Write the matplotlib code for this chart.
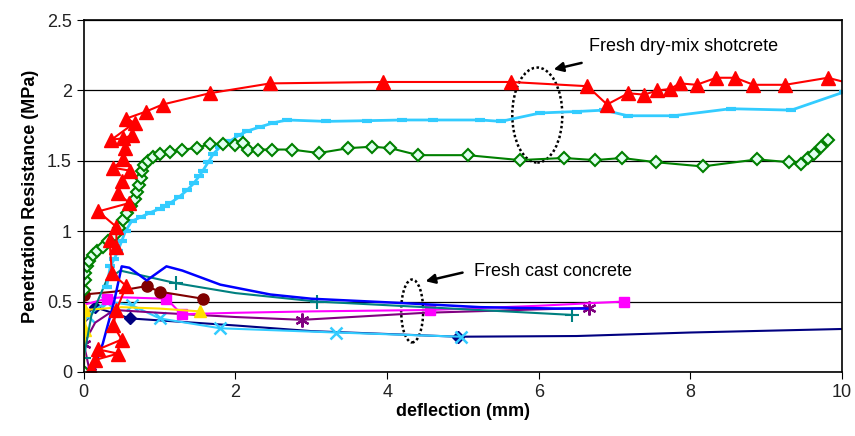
import matplotlib
matplotlib.use("Agg")
import matplotlib.pyplot as plt
from matplotlib.patches import Ellipse
import numpy as np

plt.rcParams['font.family'] = ['Liberation Sans', 'DejaVu Sans']

# ---- fresh dry-mix shotcrete ----
red_x = [0.10, 0.15, 0.45, 0.19, 0.50, 0.39, 0.43, 0.56, 0.37, 0.34, 0.43, 0.43, 0.19, 0.60,
         0.45, 0.50, 0.61, 0.39, 0.52, 0.54, 0.63, 0.52, 0.365, 0.67, 0.56, 0.82, 1.04, 1.66,
         2.46, 3.95, 5.63, 6.64, 6.90, 7.18, 7.39, 7.56, 7.73, 7.86, 8.08, 8.34, 8.59, 8.83,
         9.25, 9.81, 10.1]
red_y = [0.02, 0.085, 0.13, 0.16, 0.23, 0.33, 0.44, 0.61, 0.70, 0.94, 0.89, 1.03, 1.14, 1.20,
         1.27, 1.36, 1.43, 1.45, 1.51, 1.59, 1.68, 1.66, 1.65, 1.77, 1.80, 1.85, 1.90, 1.98,
         2.05, 2.06, 2.06, 2.03, 1.90, 1.98, 1.97, 2.00, 2.01, 2.05, 2.04, 2.09, 2.09, 2.04,
         2.04, 2.09, 2.05]

cyan_x = [0.30, 0.35, 0.40, 0.45, 0.50, 0.55, 0.63, 0.75, 0.87, 1.00, 1.07, 1.14, 1.25, 1.36,
          1.45, 1.52, 1.57, 1.64, 1.71, 1.80, 1.93, 2.04, 2.15, 2.32, 2.50, 2.68, 3.20, 3.73,
          4.20, 4.61, 5.23, 5.50, 6.02, 6.50, 6.86, 7.17, 7.78, 8.53, 9.33, 10.03]
cyan_y = [0.60, 0.75, 0.80, 0.86, 0.93, 1.00, 1.07, 1.10, 1.13, 1.16, 1.18, 1.20, 1.24, 1.29,
          1.34, 1.39, 1.43, 1.49, 1.55, 1.60, 1.64, 1.68, 1.71, 1.74, 1.77, 1.79, 1.78, 1.785,
          1.79, 1.79, 1.79, 1.78, 1.84, 1.85, 1.86, 1.82, 1.82, 1.87, 1.86, 1.99]

green_x = [0.0, 0.0, 0.01, 0.02, 0.04, 0.07, 0.12, 0.18, 0.25, 0.32, 0.41, 0.47, 0.52, 0.57,
           0.62, 0.67, 0.70, 0.73, 0.76, 0.77, 0.80, 0.85, 0.91, 1.00, 1.14, 1.30, 1.49, 1.66,
           1.84, 2.00, 2.10, 2.17, 2.30, 2.48, 2.74, 3.10, 3.49, 3.80, 4.04, 4.41, 5.06, 5.75,
           6.33, 6.74, 7.10, 7.54, 8.16, 8.88, 9.30, 9.46, 9.55, 9.63, 9.72, 9.81]
green_y = [0.0, 0.58, 0.65, 0.70, 0.75, 0.79, 0.83, 0.86, 0.89, 0.93, 0.97, 1.02, 1.08, 1.13,
           1.18, 1.23, 1.28, 1.33, 1.38, 1.43, 1.47, 1.50, 1.53, 1.55, 1.56, 1.58, 1.59, 1.62,
           1.62, 1.61, 1.63, 1.58, 1.58, 1.58, 1.58, 1.555, 1.59, 1.60, 1.59, 1.54, 1.54, 1.505,
           1.52, 1.505, 1.52, 1.49, 1.46, 1.51, 1.49, 1.48, 1.52, 1.55, 1.60, 1.65]

# ---- fresh cast concrete ----
blue_x = [0.15, 0.25, 0.40, 0.50, 0.60, 0.83, 1.09, 1.30, 1.80, 2.46, 3.00, 4.17, 5.23, 6.24, 6.64]
blue_y = [0.05, 0.20, 0.50, 0.75, 0.74, 0.65, 0.75, 0.72, 0.62, 0.55, 0.52, 0.49, 0.46, 0.45, 0.45]

teal_x = [0.0, 0.10, 0.30, 0.48, 1.22, 2.00, 3.07, 4.50, 6.44]
teal_y = [0.10, 0.40, 0.65, 0.72, 0.63, 0.56, 0.50, 0.46, 0.405]

maroon_x = [0.0, 0.40, 0.83, 1.00, 1.57]
maroon_y = [0.55, 0.57, 0.61, 0.57, 0.52]

magenta_x = [0.0, 0.02, 0.30, 0.50, 1.09, 1.29, 2.00, 3.00, 4.57, 6.00, 7.12]
magenta_y = [0.0, 0.48, 0.52, 0.53, 0.52, 0.41, 0.42, 0.43, 0.44, 0.47, 0.50]

yellow_x = [0.0, 0.02, 0.02, 0.50, 1.00, 1.53]
yellow_y = [0.0, 0.30, 0.44, 0.46, 0.45, 0.43]

purple_x = [0.08, 0.0, 0.15, 0.40, 1.00, 2.00, 2.88, 4.50, 6.66]
purple_y = [0.0, 0.20, 0.35, 0.44, 0.42, 0.39, 0.37, 0.42, 0.455]

navy_x = [0.0, 0.145, 0.61, 2.00, 3.00, 4.94, 6.50, 8.00, 10.0]
navy_y = [0.40, 0.46, 0.38, 0.33, 0.29, 0.25, 0.255, 0.28, 0.305]

aqua_x = [0.05, 0.30, 0.63, 1.00, 1.80, 3.32, 4.97]
aqua_y = [0.40, 0.50, 0.475, 0.38, 0.31, 0.28, 0.25]

fig = plt.figure(figsize=(8.55, 4.36), dpi=100)
ax = fig.add_axes([0.098, 0.147, 0.887, 0.807])

ax.plot(navy_x, navy_y, color='#000080', lw=1.5, marker='D', ms=6, markevery=[0, 1, 2, 5])
ax.plot(aqua_x, aqua_y, color='#33CCFF', lw=1.5, marker='x', ms=8, mew=1.8)
ax.plot(purple_x, purple_y, color='#800080', lw=1.5, marker=(6, 2, 0), ms=10, mew=1.6,
        markevery=[0, 1, 6, 8])
ax.plot(magenta_x, magenta_y, color='#FF00FF', lw=1.5, marker='s', ms=7,
        markevery=[0, 2, 4, 5, 8, 10])
ax.plot(yellow_x, yellow_y, color='#FFE000', lw=1.5, marker='^', ms=8,
        markevery=[0, 1, 2, 5])
ax.plot(maroon_x, maroon_y, color='#800000', lw=1.5, marker='o', ms=8,
        markevery=[0, 2, 3, 4])
ax.plot(teal_x, teal_y, color='#008080', lw=1.5, marker='+', ms=10, mew=1.5,
        markevery=[0, 4, 6, 8])
ax.plot(blue_x, blue_y, color='#0000FF', lw=1.8)

ax.plot(cyan_x, cyan_y, color='#33CCFF', lw=2, marker='_', ms=7, mew=3)
ax.plot(green_x, green_y, color='#008000', lw=1.5, marker='D', ms=6.5,
        mfc='#E0FFF0', mec='#008000', mew=1.5)
ax.plot(red_x, red_y, color='#FF0000', lw=1.5, marker='^', ms=9.5,
        markevery=slice(0, len(red_x) - 1))

# annotations
ax.add_patch(Ellipse((5.98, 1.825), 0.66, 0.675, fill=False, ec='k', ls=(0, (1, 1)), lw=1.8))
ax.add_patch(Ellipse((4.33, 0.433), 0.29, 0.447, fill=False, ec='k', ls=(0, (1, 1)), lw=1.8))
ax.annotate('', xy=(6.16, 2.145), xytext=(6.60, 2.20),
            arrowprops=dict(arrowstyle='-|>', color='k', lw=1.8, mutation_scale=14))
ax.annotate('', xy=(4.47, 0.64), xytext=(5.03, 0.71),
            arrowprops=dict(arrowstyle='-|>', color='k', lw=1.8, mutation_scale=14))
ax.text(6.66, 2.31, 'Fresh dry-mix shotcrete', fontsize=13, va='center', ha='left')
ax.text(5.14, 0.71, 'Fresh cast concrete', fontsize=13, va='center', ha='left')

ax.set_xlim(0, 10)
ax.set_ylim(0, 2.5)
ax.set_xticks([0, 2, 4, 6, 8, 10])
ax.set_yticks([0, 0.5, 1, 1.5, 2, 2.5])
ax.set_yticklabels(['0', '0.5', '1', '1.5', '2', '2.5'])
ax.tick_params(labelsize=13, direction='out', length=5, color='k', labelcolor='#222222')
ax.yaxis.grid(True, color='k', lw=0.9)
ax.set_axisbelow(True)
for s in ax.spines.values():
    s.set_color('k')
    s.set_linewidth(1.2)

ax.set_xlabel('deflection (mm)', fontsize=13, fontweight='bold', labelpad=2)
ax.set_ylabel('Penetration Resistance (MPa)', fontsize=13, fontweight='bold', labelpad=6)

fig.savefig('out.png', dpi=100)
